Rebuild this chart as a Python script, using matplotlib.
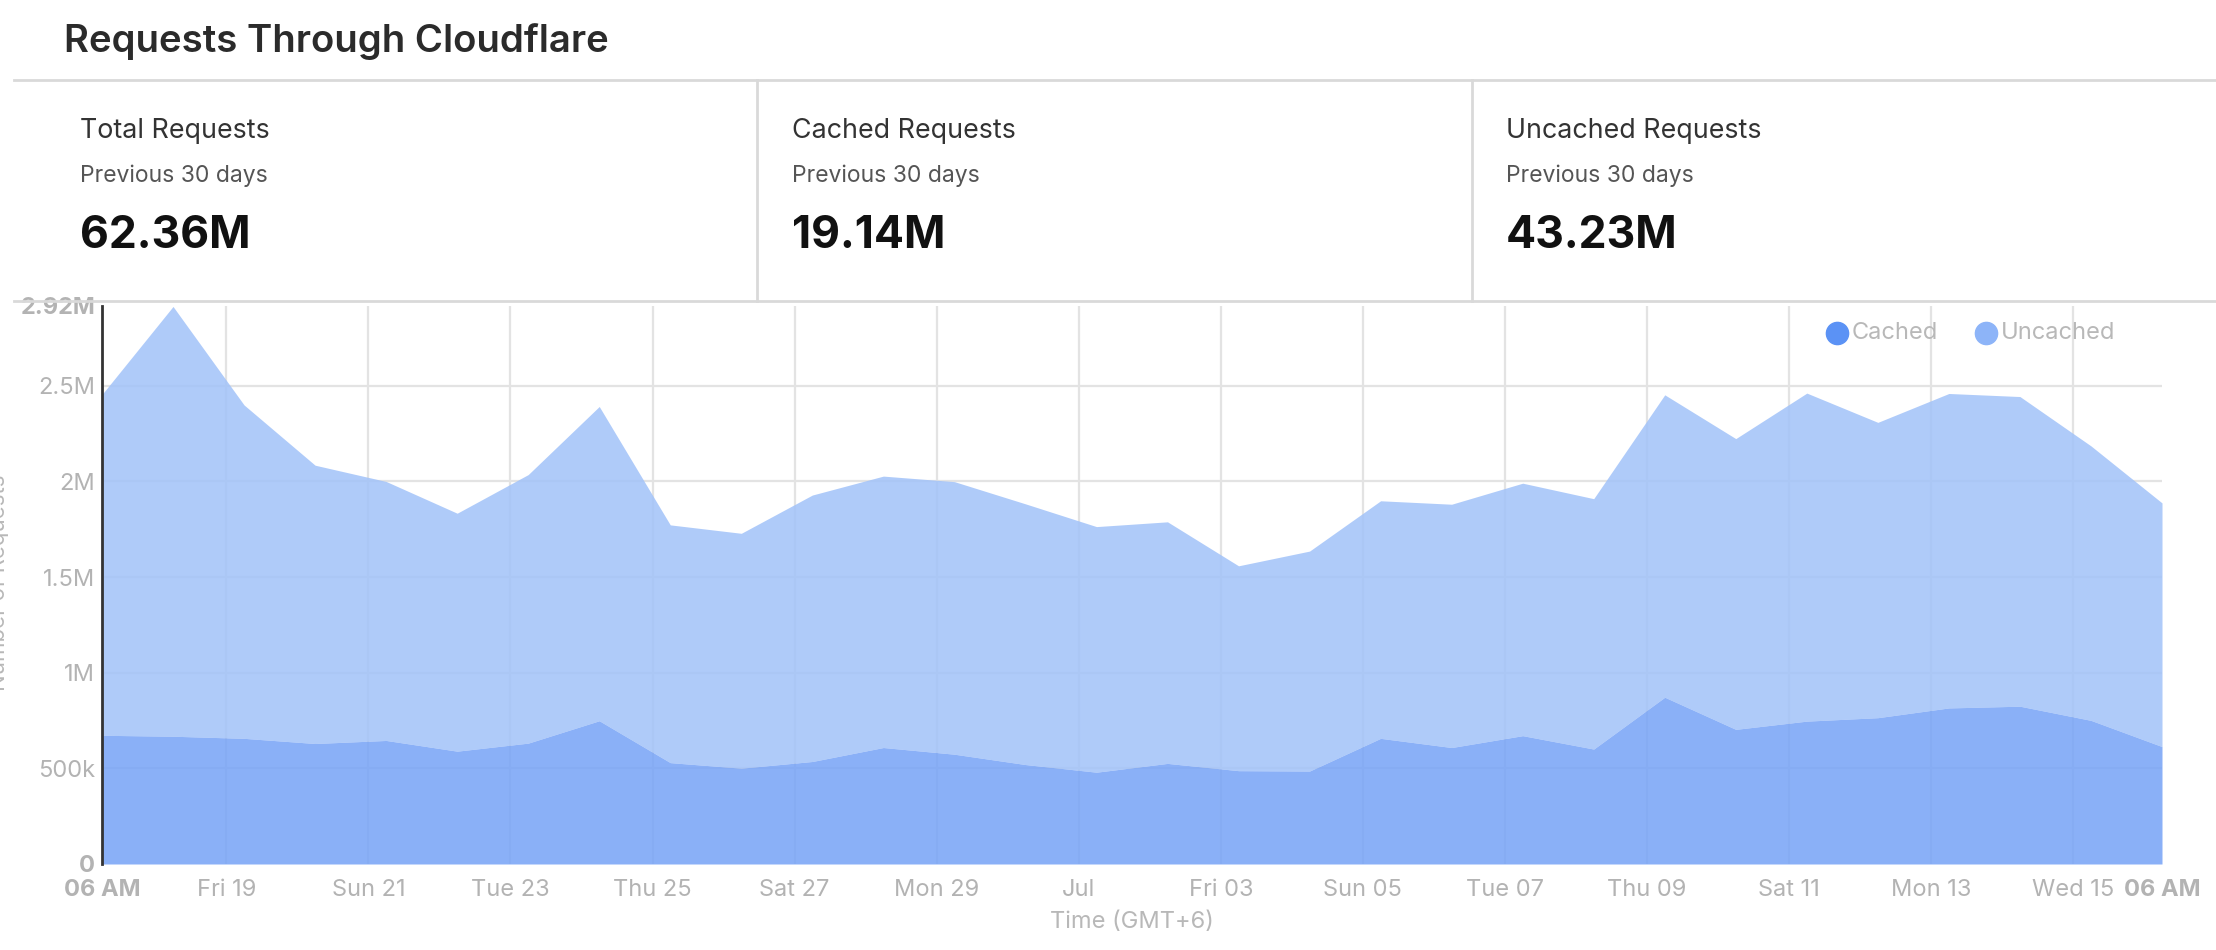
import matplotlib
matplotlib.use("Agg")
import matplotlib.pyplot as plt
from matplotlib.lines import Line2D
import pandas as pd

plt.rcParams['font.family'] = ['Inter', 'DejaVu Sans']

# daily values (millions), 06 AM Jun 17 2020 .. 06 AM Jul 16 2020
cached = [0.673, 0.668, 0.657, 0.630, 0.646, 0.590, 0.632, 0.749, 0.530, 0.501,
          0.536, 0.609, 0.574, 0.520, 0.480, 0.526, 0.488, 0.486, 0.657, 0.609,
          0.671, 0.601, 0.872, 0.704, 0.747, 0.765, 0.816, 0.825, 0.751, 0.614]
uncached = [1.782, 2.247, 1.743, 1.455, 1.354, 1.244, 1.404, 1.643, 1.243, 1.228,
            1.393, 1.419, 1.425, 1.363, 1.284, 1.263, 1.071, 1.150, 1.242, 1.272,
            1.320, 1.309, 1.581, 1.520, 1.715, 1.544, 1.644, 1.619, 1.435, 1.274]

stat_titles = ["Total Requests", "Cached Requests", "Uncached Requests"]
stat_values = ["62.36M", "19.14M", "43.23M"]

y_ticks = [0, 0.5, 1.0, 1.5, 2.0, 2.5, 2.92]
y_labels = ["0", "500k", "1M", "1.5M", "2M", "2.5M", "2.92M"]
x_labels = ["06 AM", "Fri 19", "Sun 21", "Tue 23", "Thu 25", "Sat 27", "Mon 29", "Jul",
            "Fri 03", "Sun 05", "Tue 07", "Thu 09", "Sat 11", "Mon 13", "Wed 15", "06 AM"]

days = pd.date_range("2020-06-17 06:00", periods=len(cached), freq="D")
mid_ticks = list(pd.date_range("2020-06-19", "2020-07-15", freq="2D"))
x_ticks = [days[0]] + mid_ticks + [days[-1]]

W, H = 2216, 950
fig = plt.figure(figsize=(W / 100, H / 100), dpi=100)

def fx(px):
    return px / W

def fy(py):
    return 1 - py / H

# header
fig.text(fx(64), fy(52), "Requests Through Cloudflare", fontsize=27.6, fontweight="semibold",
         color="#2b2b2b", va="baseline")
fig.add_artist(Line2D([fx(14), 1], [fy(80), fy(80)], color="#d9d9d9", lw=2))
fig.add_artist(Line2D([fx(14), 1], [fy(301), fy(301)], color="#d9d9d9", lw=2, zorder=5))
for sx in [757, 1472]:
    fig.add_artist(Line2D([fx(sx), fx(sx)], [fy(80), fy(301)], color="#d9d9d9", lw=2))

for i, (t, v) in enumerate(zip(stat_titles, stat_values)):
    x0 = fx([80, 792, 1506][i])
    fig.text(x0, fy(138), t, fontsize=19.3, color="#333333", va="baseline")
    fig.text(x0, fy(182), "Previous 30 days", fontsize=16.5, color="#555555", va="baseline")
    fig.text(x0, fy(248), v, fontsize=32, fontweight="bold", color="#111111", va="baseline")

# chart
ax = fig.add_axes([fx(102), fy(864), fx(2162) - fx(102), fy(305.5) - fy(864)])
total = [c + u for c, u in zip(cached, uncached)]
ax.fill_between(days, cached, total, color="#a1c2f9", alpha=0.85, lw=0, zorder=2)
ax.fill_between(days, 0, cached, color="#76a3f6", alpha=0.85, lw=0, zorder=2)

ax.set_xlim(days[0], days[-1])
ax.set_ylim(0, 2.92)
ax.set_yticks(y_ticks)
ax.set_yticklabels(y_labels)
ax.set_xticks(x_ticks)
ax.set_xticklabels(x_labels)
ax.tick_params(length=0, labelsize=17, labelcolor="#b3b3b3")
ax.tick_params(axis="y", pad=5)
ax.tick_params(axis="x", pad=11)
for lab in [ax.get_yticklabels()[0], ax.get_yticklabels()[-1],
            ax.get_xticklabels()[0], ax.get_xticklabels()[-1]]:
    lab.set_fontweight("bold")

ax.set_axisbelow(True)
ax.grid(True, color="#e3e3e3", lw=1.6)
for g in [ax.get_xgridlines()[0], ax.get_xgridlines()[-1],
          ax.get_ygridlines()[0], ax.get_ygridlines()[-1]]:
    g.set_visible(False)

for s in ["top", "right", "bottom"]:
    ax.spines[s].set_visible(False)
ax.spines["left"].set_color("#333333")
ax.spines["left"].set_linewidth(2)
ax.spines["left"].set_zorder(4)

ax.set_xlabel("Time (GMT+6)", fontsize=17, color="#b8b8b8", labelpad=7)
fig.text(fx(9), fy(583), "Number of Requests", fontsize=16, color="#b8b8b8",
         rotation=90, ha="right", va="center")

# legend
for lx, name, col in [(1837, "Cached", "#5b92f5"), (1986, "Uncached", "#8db4f8")]:
    fig.add_artist(Line2D([fx(lx)], [fy(333)], marker="o", markersize=16, color=col, lw=0))
    fig.text(fx(lx + 15), fy(333), name, fontsize=17, color="#b8b8b8", va="center")

fig.savefig("out.png", dpi=100)
